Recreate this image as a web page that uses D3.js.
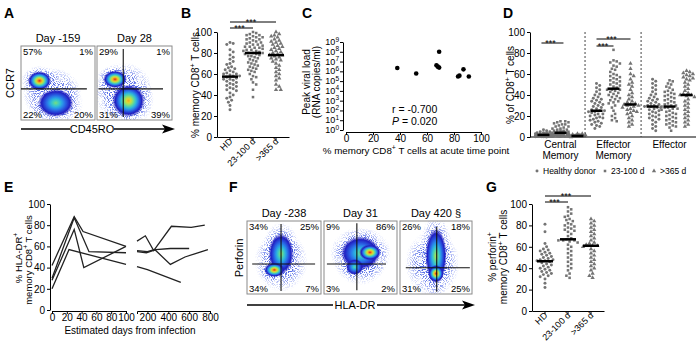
<!DOCTYPE html>
<html><head><meta charset="utf-8">
<script src="https://cdn.jsdelivr.net/npm/d3@7"></script>
<style>body{margin:0;background:#fff}svg{display:block}</style>
</head><body>
<svg id="fig" width="696" height="342"></svg>
<script>
// ---------------- DATA ----------------
const yTicks100 = [0, 20, 40, 60, 80, 100];
const groupCats = ["HD", "23-100 d", ">365 d"];

// Panel A flow plots (CCR7 vs CD45RO)
const flowA_titles = ["Day -159", "Day 28"];
const flowA_quads = [["57%", "1%", "22%", "20%"], ["29%", "1%", "31%", "39%"]];
// populations in normalized fluorescence units (u = x, v = y, d = peak density)
const flowA_pops = [
  [{u:0.42,v:0.35,su:0.40,sv:0.36,d:0.1},{u:0.47,v:0.23,su:0.24,sv:0.19,d:0.5},{u:0.25,v:0.53,su:0.16,sv:0.13,d:1.0}],
  [{u:0.35,v:0.38,su:0.40,sv:0.40,d:0.1},{u:0.42,v:0.26,su:0.22,sv:0.22,d:0.78},{u:0.24,v:0.55,su:0.16,sv:0.12,d:1.0}]
];
const flowA_gates = [{h:0.42,h0:0,h1:0.89,vx:null}, {h:0.42,h0:0.02,h1:0.88,vx:0.35,v0:0.04,v1:0.96}];

// Panel B: % memory CD8+ T cells
const memB_HD  = [90,89,88,83,81,78,76,74,72,70,69,67,66,65,64,63,62,61,60,60,59,58,58,57,56,55,55,54,53,52,51,50,49,48,47,46,45,44,42,40,38,37,35,33,30,26];
const memB_23  = [100,99,98,97,97,96,95,95,94,93,93,92,91,90,90,89,88,88,87,86,86,85,85,84,83,83,82,82,81,80,80,80,79,79,78,77,77,76,75,74,73,72,71,70,69,68,67,66,65,64,63,62,60,58,57,55,52,50,45,38];
const memB_365 = [100,98,97,96,95,93,92,91,90,89,88,87,86,85,84,83,82,81,80,79,78,78,77,76,75,74,73,72,70,68,66,64,62,60,58,56,54,50,48,45,45];

// Panel C: peak viral load vs % memory CD8+ T cells
const viralMem  = [38, 52, 67, 68, 69, 69, 83, 84, 87, 91];
const viralLoad = [2.2e6, 6e5, 4.2e6, 3e6, 1e8, 2.4e6, 3e5, 3.6e5, 1.6e6, 3e5];
const logTicks = [0,1,2,3,4,5,6,7,8,9];
const corrR = "r = -0.700", corrP = "0.020";

// Panel D: subsets
const subsets = [["Central","Memory"],["Effector","Memory"],["Effector"]];
const d_CM  = [
  [7,6,5,5,4,4,4,3,3,3,3,3,2,2,2,2,2,2,2,2,1.5,1.5,1.5,1,1,1,1,1,1,0.5,0.5,0.5,0.5,0.3,0.3,0.2,0.2,0.1],
  [15,15,14,14,13,12,12,11,10,10,9,8,8,7,7,6,6,6,5,5,5,4,4,4,4,4,4,3,3,3,3,3,2,2,2,2,2,1,1,1,1,1,0.5,0.5,0.5,0.3],
  [3,3,2.5,2,2,2,1.5,1.5,1,1,1,1,1,1,0.8,0.7,0.6,0.5,0.5,0.4,0.3,0.3,0.2,0.2,0.1]
];
const d_EM = [
  [51,49,47,45,43,41,40,38,37,36,35,34,33,32,31,30,29,28,27,26,25,25,24,24,23,22,22,21,20,19,18,18,17,16,15,14,13,12,11,10,8],
  [83,73,72,71,70,68,67,65,64,62,60,59,58,57,56,55,54,53,52,51,50,49,48,47,45,45,45,44,43,42,41,40,39,38,37,36,35,34,33,32,30,28,25,22,20,18,16,15],
  [70,65,60,58,55,52,50,48,45,42,40,38,36,34,33,32,31,31,30,30,29,28,27,26,25,24,23,22,20,18,16,14,12,10]
];
const d_EF = [
  [55,53,51,49,47,45,43,41,40,38,37,36,35,34,33,32,31,30,30,29,29,28,28,27,26,25,24,23,22,21,20,19,18,17,16,14,12,10,8,6],
  [54,53,51,50,48,47,45,44,43,42,41,40,39,38,37,36,35,34,33,32,31,30,30,29,28,28,27,27,26,25,24,23,22,21,20,19,18,17,16,15,14,13,12,11,10,9,6],
  [63,62,61,60,59,58,57,56,55,54,52,50,48,46,44,42,41,40,40,39,38,36,34,32,30,28,26,24,22,20,18,16,14,12,10]
];
const legendD = ["Healthy donor", "23-100 d", ">365 d"];

// Panel E: % HLA-DR+ memory CD8+ T cells over time [day, %]
const hlaEarly = [
  [[0,42],[30,88],[42,74],[100,60]],
  [[0,30],[30,87],[50,55],[100,54]],
  [[0,28],[30,76],[43,40],[100,60]],
  [[0,20],[23,57],[100,43]]
];
const hlaLate = [
  [[100,65],[180,70],[260,56],[430,79],[620,78],[750,80]],
  [[100,55],[190,54],[280,57],[420,58],[600,58]],
  [[100,56],[200,55],[270,57],[420,43],[560,50],[780,57]],
  [[100,41],[200,38],[520,26]]
];
const daysTicks1 = [0,20,40,60,80,100];
const daysTicks2 = [200,400,600,800];

// Panel F flow plots (Perforin vs HLA-DR)
const flowF_titles = ["Day -238", "Day 31", "Day 420 \u00a7"];
const flowF_quads = [["34%","25%","34%","7%"],["9%","86%","3%","2%"],["26%","18%","31%","25%"]];
const flowF_pops = [
  [{u:0.46,v:0.45,su:0.36,sv:0.42,d:0.1},{u:0.46,v:0.55,su:0.17,sv:0.28,d:0.55},{u:0.37,v:0.33,su:0.14,sv:0.10,d:1.0}],
  [{u:0.50,v:0.50,su:0.38,sv:0.38,d:0.1},{u:0.50,v:0.56,su:0.27,sv:0.23,d:0.5},{u:0.42,v:0.37,su:0.12,sv:0.11,d:0.45},{u:0.63,v:0.57,su:0.15,sv:0.11,d:1.0}],
  [{u:0.45,v:0.42,su:0.38,sv:0.45,d:0.1},{u:0.50,v:0.52,su:0.15,sv:0.38,d:0.6},{u:0.50,v:0.28,su:0.11,sv:0.12,d:1.0}]
];
const flowF_gates = [
  {h:0.41,h0:0.07,h1:0.92,vx:0.46,v0:0.04,v1:0.96},
  {h:0.41,h0:0.04,h1:0.85,vx:0.45,v0:0.05,v1:0.97},
  {h:0.36,h0:0.08,h1:0.97,vx:0.51,v0:0.03,v1:0.92}
];

// Panel G: % perforin+ memory CD8+ T cells
const perfG_HD  = [81,74,63,60,58,57,56,55,54,53,52,51,50,49,48,48,47,47,46,45,44,43,42,41,40,39,38,37,36,35,34,33,32,30,26,22];
const perfG_23  = [97,95,93,91,89,88,86,85,84,82,81,80,79,78,77,76,75,74,72,70,68,67,66,66,66,65,64,62,60,58,56,54,52,50,48,46,44,42,40,38,35,33,31];
const perfG_365 = [86,84,82,80,78,76,74,72,70,68,66,64,63,62,61,61,60,58,56,54,52,50,48,46,44,42,40,38,35,33,31];

// ---------------- DRAWING ----------------
const FONT = "'Liberation Sans', Arial, Helvetica, sans-serif";
const svg = d3.select("#fig").style("font-family", FONT);
const defs = svg.append("defs");
const PTC = "#747474";
let uid = 0;

function letter(t, x, y) {
  svg.append("text").attr("x", x).attr("y", y).attr("font-size", 14).attr("font-weight", "bold").text(t);
}
function styleAxis(g, fs) {
  g.attr("font-family", FONT).attr("font-size", fs || 10);
  g.selectAll("text").attr("fill", "#000");
  g.selectAll("path,line").attr("stroke", "#000").attr("stroke-width", 1);
}
function rich(sel, parts, fs) {
  const t = sel.append("text").attr("font-size", fs);
  let sup = false;
  parts.forEach(([s, isSup]) => {
    const ts = t.append("tspan").text(s);
    if (isSup && !sup) { ts.attr("dy", -fs * 0.4).attr("font-size", fs * 0.7); sup = true; }
    else if (isSup) { ts.attr("font-size", fs * 0.7); }
    else if (sup) { ts.attr("dy", fs * 0.4); sup = false; }
  });
  return t;
}
function vlabel(parts, x, y, fs) {
  const g = svg.append("g").attr("transform", `translate(${x},${y}) rotate(-90)`);
  rich(g, parts, fs).attr("text-anchor", "middle");
}
function swarm(vals, cx, y, dist, step, maxOff) {
  const pts = vals.map(v => ({ v, y: y(v) })).sort((a, b) => a.y - b.y);
  const placed = [];
  for (const p of pts) {
    let best = null, bestScore = -1;
    for (let k = 0; k < 80; k++) {
      const off = k === 0 ? 0 : (k % 2 ? 1 : -1) * Math.ceil(k / 2) * step;
      if (Math.abs(off) > maxOff) break;
      const x = cx + off;
      const md = placed.length ? d3.min(placed, q => Math.hypot(q.x - x, q.y - p.y)) : 1e9;
      if (md >= dist) { best = x; break; }
      if (md > bestScore) { bestScore = md; best = x; }
    }
    p.x = best; placed.push(p);
  }
  return placed;
}
const symTypes = [d3.symbolCircle, d3.symbolSquare, d3.symbolTriangle];
const symSizes = [7, 6.5, 8];
function drawGroup(vals, cx, y, si, half, maxOff) {
  const pts = swarm(vals, cx, y, 3.3, 1.6, maxOff);
  svg.append("g").selectAll("path").data(pts).join("path")
    .attr("transform", d => `translate(${d.x},${d.y})`)
    .attr("d", d3.symbol(symTypes[si], symSizes[si])).attr("fill", PTC);
  const m = d3.median(vals);
  svg.append("line").attr("x1", cx - half).attr("x2", cx + half).attr("y1", y(m)).attr("y2", y(m))
    .attr("stroke", "#000").attr("stroke-width", 2.5);
}
function sigBar(x1, x2, yy) {
  svg.append("line").attr("x1", x1).attr("x2", x2).attr("y1", yy).attr("y2", yy).attr("stroke", "#000").attr("stroke-width", 1);
  svg.append("text").attr("x", (x1 + x2) / 2 - 2).attr("y", yy + 3.2).attr("text-anchor", "middle").attr("font-size", 9).text("***");
}

function catPanel(o) {
  const y = d3.scaleLinear([0, 100], [o.y0, o.y100]);
  const x = d3.scaleBand(groupCats, [o.ax, o.ax + 72]).paddingInner(0).paddingOuter(0.065);
  styleAxis(svg.append("g").attr("transform", `translate(${o.ax},0)`)
    .call(d3.axisLeft(y).tickValues(yTicks100).tickSize(3).tickSizeOuter(0).tickPadding(2)));
  styleAxis(svg.append("g").attr("transform", `translate(0,${o.y0})`)
    .call(d3.axisBottom(x).tickSize(3).tickSizeOuter(0).tickFormat("")));
  const cx = c => x(c) + x.bandwidth() / 2;
  groupCats.forEach(c => {
    svg.append("text").attr("transform", `translate(${cx(c) + 3},${o.y0 + 5}) rotate(-45)`)
      .attr("text-anchor", "end").attr("font-size", 9).text(c);
  });
  o.series.forEach((vals, i) => drawGroup(vals, cx(groupCats[i]), y, i, 8, 10));
  sigBar(cx(groupCats[0]), cx(groupCats[2]), o.sig1);
  sigBar(cx(groupCats[0]), cx(groupCats[1]), o.sig2);
}

// Flow cytometry pseudo-colour density plot
const jet = d3.interpolateRgbBasis(["#2020c0", "#2e63ec", "#20c4ea", "#72e07c", "#f0e628", "#f58e1e", "#dd2418"]);
{
  const sp = defs.append("filter").attr("id", "speckle").attr("filterUnits", "userSpaceOnUse")
    .attr("x", 0).attr("y", 0).attr("width", 696).attr("height", 342);
  sp.append("feTurbulence").attr("type", "fractalNoise").attr("baseFrequency", 0.95).attr("numOctaves", 1).attr("seed", 7).attr("result", "n");
  sp.append("feColorMatrix").attr("in", "n").attr("type", "matrix")
    .attr("values", "0 0 0 0 0  0 0 0 0 0  0 0 0 0 0  8 0 0 0 -3.9").attr("result", "m");
  sp.append("feComposite").attr("in", "SourceGraphic").attr("in2", "m").attr("operator", "in");
  const hg = defs.append("radialGradient").attr("id", "haloGrad");
  hg.append("stop").attr("offset", 0).attr("stop-color", "#2f47dc").attr("stop-opacity", 1);
  hg.append("stop").attr("offset", 0.55).attr("stop-color", "#3e58e2").attr("stop-opacity", 0.85);
  hg.append("stop").attr("offset", 1).attr("stop-color", "#7d8ff0").attr("stop-opacity", 0);
  const f = defs.append("filter").attr("id", "soft").attr("x", "-20%").attr("y", "-20%").attr("width", "140%").attr("height", "140%");
  f.append("feGaussianBlur").attr("stdDeviation", 0.7);
}
function flowPlot(box, title, pops, gate, quads) {
  const u = d3.scaleLinear([0, 1], [box.x0, box.x1]);
  const v = d3.scaleLinear([0, 1], [box.y1, box.y0]);
  const W = box.x1 - box.x0, H = box.y1 - box.y0;
  const cid = "clip" + (uid++);
  defs.append("clipPath").attr("id", cid).append("rect")
    .attr("x", box.x0).attr("y", box.y0).attr("width", W).attr("height", H);
  const clip = svg.append("g").attr("clip-path", `url(#${cid})`);
  const halo = clip.append("g").attr("filter", "url(#speckle)");
  const core = clip.append("g").attr("filter", "url(#soft)");
  pops.forEach(p => {
    const k = p.d < 0.3 ? 1 : 1.55;
    halo.append("ellipse").attr("cx", u(p.u)).attr("cy", v(p.v)).attr("rx", k * p.su * W).attr("ry", k * p.sv * H)
      .attr("fill", "url(#haloGrad)");
    if (p.d < 0.3) return;
    const gid = "rg" + (uid++);
    const gr = defs.append("radialGradient").attr("id", gid);
    const n = 7;
    for (let i = 0; i <= n; i++) {
      gr.append("stop").attr("offset", (i / n) * 0.8).attr("stop-color", jet(p.d * (1 - i / n))).attr("stop-opacity", 1);
    }
    gr.append("stop").attr("offset", 1).attr("stop-color", jet(0)).attr("stop-opacity", 0);
    core.append("ellipse").attr("cx", u(p.u)).attr("cy", v(p.v)).attr("rx", p.su * W).attr("ry", p.sv * H)
      .attr("fill", `url(#${gid})`);
  });
  svg.append("rect").attr("x", box.x0).attr("y", box.y0).attr("width", W).attr("height", H)
    .attr("fill", "none").attr("stroke", "#8a8a8a").attr("stroke-width", 1);
  svg.append("line").attr("x1", u(gate.h0)).attr("x2", u(gate.h1)).attr("y1", v(gate.h)).attr("y2", v(gate.h))
    .attr("stroke", "#111").attr("stroke-width", 1.1);
  if (gate.vx !== null) svg.append("line").attr("x1", u(gate.vx)).attr("x2", u(gate.vx))
    .attr("y1", v(gate.v0)).attr("y2", v(gate.v1)).attr("stroke", "#111").attr("stroke-width", 1.1);
  svg.append("text").attr("x", (box.x0 + box.x1) / 2).attr("y", box.y0 - 4).attr("text-anchor", "middle")
    .attr("font-size", 11).text(title);
  const q = svg.append("g").attr("font-size", 9.5);
  q.append("text").attr("x", box.x0 + 2).attr("y", box.y0 + 9).text(quads[0]);
  q.append("text").attr("x", box.x1 - 2).attr("y", box.y0 + 9).attr("text-anchor", "end").text(quads[1]);
  q.append("text").attr("x", box.x0 + 2).attr("y", box.y1 - 2).text(quads[2]);
  q.append("text").attr("x", box.x1 - 2).attr("y", box.y1 - 2).attr("text-anchor", "end").text(quads[3]);
}
function arrowAxis(x0, x1, y, label, lx, gapHalf) {
  svg.append("line").attr("x1", x0).attr("x2", lx - gapHalf).attr("y1", y).attr("y2", y).attr("stroke", "#000").attr("stroke-width", 1.3);
  svg.append("line").attr("x1", lx + gapHalf).attr("x2", x1 - 8).attr("y1", y).attr("y2", y).attr("stroke", "#000").attr("stroke-width", 1.3);
  svg.append("path").attr("d", `M${x1},${y} L${x1 - 13},${y - 4.5} L${x1 - 10},${y} L${x1 - 13},${y + 4.5} Z`).attr("fill", "#000");
  svg.append("text").attr("x", lx).attr("y", y + 4).attr("text-anchor", "middle").attr("font-size", 11).text(label);
}

// ===== Panel A =====
letter("A", 4, 18);
const boxesA = [{x0:21,x1:95,y0:46,y1:120},{x0:97,x1:172,y0:46,y1:120}];
boxesA.forEach((b, i) => flowPlot(b, flowA_titles[i], flowA_pops[i], flowA_gates[i], flowA_quads[i]));
svg.append("text").attr("transform", "translate(14,83) rotate(-90)").attr("text-anchor", "middle").attr("font-size", 11).text("CCR7");
arrowAxis(21, 175, 129, "CD45RO", 92, 22);

// ===== Panel B =====
letter("B", 181, 18);
catPanel({ ax: 217, y0: 137, y100: 32, series: [memB_HD, memB_23, memB_365], sig1: 22, sig2: 28 });
vlabel([["% memory CD8"], ["+", true], [" T cells"]], 199, 85, 10);

// ===== Panel C =====
letter("C", 302, 18);
const xC = d3.scaleLinear([0, 100], [346, 481]);
const yC = d3.scaleLog([1, 1e9], [130, 42]);
styleAxis(svg.append("g").attr("transform", "translate(0,132)")
  .call(d3.axisBottom(xC).tickValues([0, 20, 40, 60, 80, 100]).tickSize(3).tickSizeOuter(0).tickPadding(0)));
styleAxis(svg.append("g").attr("transform", "translate(343,0)")
  .call(d3.axisLeft(yC).tickValues(logTicks.map(k => Math.pow(10, k))).tickSize(3).tickSizeOuter(0).tickFormat("")));
logTicks.forEach(k => {
  const t = svg.append("text").attr("x", 339).attr("y", yC(Math.pow(10, k)) + 3).attr("text-anchor", "end").attr("font-size", 9);
  t.append("tspan").text("10");
  t.append("tspan").attr("dy", -3.5).attr("font-size", 6.5).text(k);
});
svg.append("g").selectAll("circle").data(viralMem).join("circle")
  .attr("cx", d => xC(d)).attr("cy", (d, i) => yC(viralLoad[i])).attr("r", 2.3).attr("fill", "#000");
svg.append("text").attr("x", 392).attr("y", 113).attr("font-size", 10.5).text(corrR);
{
  const t = svg.append("text").attr("x", 392).attr("y", 125).attr("font-size", 10.5);
  t.append("tspan").attr("font-style", "italic").text("P");
  t.append("tspan").text(" = " + corrP);
}
{
  const g = svg.append("g").attr("transform", "translate(416,154)");
  rich(g, [["% memory CD8"], ["+", true], [" T cells at acute time point"]], 9.8).attr("text-anchor", "middle");
}
svg.append("text").attr("transform", "translate(310,82) rotate(-90)").attr("text-anchor", "middle").attr("font-size", 10).text("Peak viral load");
svg.append("text").attr("transform", "translate(320,82) rotate(-90)").attr("text-anchor", "middle").attr("font-size", 10).text("(RNA copies/ml)");

// ===== Panel D =====
letter("D", 503, 18);
const yD = d3.scaleLinear([0, 100], [137, 32]);
const xDg = d3.scaleBand([0, 1, 2], [530, 697]).paddingInner(0.02).paddingOuter(0.0);
styleAxis(svg.append("g").attr("transform", "translate(530,0)")
  .call(d3.axisLeft(yD).tickValues(yTicks100).tickSize(3).tickSizeOuter(0).tickPadding(2)));
svg.append("line").attr("x1", 530).attr("x2", 696).attr("y1", 137).attr("y2", 137).attr("stroke", "#000");
const dSets = [d_CM, d_EM, d_EF];
dSets.forEach((set, gi) => {
  const gc = xDg(gi) + xDg.bandwidth() / 2 + (gi === 0 ? 3 : 0);
  set.forEach((vals, si) => drawGroup(vals, gc + (si - 1) * 17, yD, si, 6, 8));
  subsets[gi].forEach((line, li) => svg.append("text").attr("x", gc).attr("y", 148 + li * 11)
    .attr("text-anchor", "middle").attr("font-size", 10).text(line));
  if (gi > 0) svg.append("line").attr("x1", xDg(gi) - 1).attr("x2", xDg(gi) - 1).attr("y1", 32).attr("y2", 137)
    .attr("stroke", "#444").attr("stroke-dasharray", "2,2");
});
{
  const c0 = xDg(0) + xDg.bandwidth() / 2 + 3, c1 = xDg(1) + xDg.bandwidth() / 2;
  sigBar(c0 - 19, c0 + 3, 43);
  sigBar(c1 - 17, c1 + 17, 39);
  sigBar(c1 - 17, c1, 46);
}
vlabel([["% of CD8"], ["+", true], [" T cells"]], 514, 85, 10);
{
  const lg = svg.append("g").attr("font-size", 8.5);
  const lx = [537, 605, 654];
  legendD.forEach((t, i) => {
    lg.append("path").attr("transform", `translate(${lx[i]},171)`).attr("d", d3.symbol(symTypes[i], symSizes[i])).attr("fill", PTC);
    lg.append("text").attr("x", lx[i] + 6).attr("y", 174).text(t);
  });
}

// ===== Panel E =====
letter("E", 4, 192);
const yE = d3.scaleLinear([0, 100], [310, 204]);
const xE1 = d3.scaleLinear([0, 100], [52, 126]);
const xE2 = d3.scaleLinear([100, 800], [137, 210]);
styleAxis(svg.append("g").attr("transform", "translate(50,0)")
  .call(d3.axisLeft(yE).tickValues(yTicks100).tickSize(3).tickSizeOuter(0).tickPadding(2)));
styleAxis(svg.append("g").attr("transform", "translate(0,311)")
  .call(d3.axisBottom(xE1).tickValues(daysTicks1).tickSize(3).tickSizeOuter(0).tickPadding(0)));
styleAxis(svg.append("g").attr("transform", "translate(0,311)")
  .call(d3.axisBottom(xE2).tickValues(daysTicks2).tickSize(3).tickSizeOuter(3).tickPadding(0)));
const lineE1 = d3.line().x(d => xE1(d[0])).y(d => yE(d[1]));
const lineE2 = d3.line().x(d => xE2(d[0])).y(d => yE(d[1]));
svg.append("g").selectAll("path").data(hlaEarly).join("path").attr("d", lineE1)
  .attr("fill", "none").attr("stroke", "#222").attr("stroke-width", 1.3);
svg.append("g").selectAll("path").data(hlaLate).join("path").attr("d", lineE2)
  .attr("fill", "none").attr("stroke", "#222").attr("stroke-width", 1.3);
svg.append("text").attr("x", 130).attr("y", 334).attr("text-anchor", "middle").attr("font-size", 10).text("Estimated days from infection");
vlabel([["% HLA-DR"], ["+", true]], 22, 258, 9.5);
vlabel([["memory CD8"], ["+", true], [" T cells"]], 32, 260, 9.5);

// ===== Panel F =====
letter("F", 229, 192);
const boxesF = [{x0:247,x1:321,y0:221,y1:294},{x0:324,x1:397,y0:221,y1:294},{x0:400,x1:472,y0:221,y1:294}];
boxesF.forEach((b, i) => flowPlot(b, flowF_titles[i], flowF_pops[i], flowF_gates[i], flowF_quads[i]));
svg.append("text").attr("transform", "translate(243,258) rotate(-90)").attr("text-anchor", "middle").attr("font-size", 11).text("Perforin");
arrowAxis(247, 475, 305, "HLA-DR", 355, 22);

// ===== Panel G =====
letter("G", 486, 192);
catPanel({ ax: 532, y0: 311, y100: 204, series: [perfG_HD, perfG_23, perfG_365], sig1: 196, sig2: 202 });
vlabel([["% perforin"], ["+", true]], 496, 257, 10);
vlabel([["memory CD8"], ["+", true], [" T cells"]], 507, 257, 10);
</script>
</body></html>
